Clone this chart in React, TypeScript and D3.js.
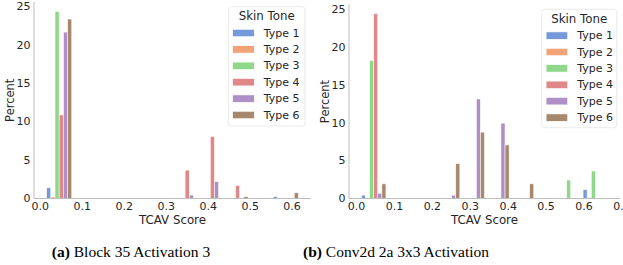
import React from "react";
import * as d3 from "d3";

const skinTypes = ["Type 1", "Type 2", "Type 3", "Type 4", "Type 5", "Type 6"];
const palette = ["#4878d0", "#ee854a", "#6acc64", "#d65f5f", "#956cb4", "#8c613c"];

// (a) Block 35 Activation 3 -- 10 bins, percent of all samples
const blockEdges = [0.015, 0.075, 0.135, 0.195, 0.255, 0.315, 0.375, 0.435, 0.495, 0.555, 0.615];
const blockType1 = [1.4, 0, 0, 0, 0, 0, 0, 0, 0, 0.25];
const blockType2 = [0.2, 0, 0, 0, 0, 0, 0, 0, 0, 0];
const blockType3 = [24.4, 0, 0, 0, 0, 0, 0, 0, 0, 0];
const blockType4 = [10.9, 0, 0, 0, 0, 3.7, 8.1, 1.7, 0, 0];
const blockType5 = [21.7, 0, 0, 0, 0, 0.45, 2.2, 0, 0, 0];
const blockType6 = [23.4, 0, 0, 0, 0, 0, 0, 0.25, 0, 0.75];
const blockXTicks = [0, 0.1, 0.2, 0.3, 0.4, 0.5, 0.6];

// (b) Conv2d 2a 3x3 Activation
const convEdges = [0.0125, 0.0775, 0.1425, 0.2075, 0.2725, 0.3375, 0.4025, 0.4675, 0.5325, 0.5975, 0.6625];
const convType1 = [0.45, 0, 0, 0, 0, 0, 0, 0, 0, 1.2];
const convType2 = [0, 0, 0, 0, 0, 0, 0, 0, 0, 0.15];
const convType3 = [18.3, 0, 0, 0, 0, 0, 0, 0, 2.45, 3.65];
const convType4 = [24.5, 0, 0, 0, 0, 0, 0, 0, 0, 0];
const convType5 = [0.7, 0, 0, 0.45, 13.2, 10.0, 0, 0, 0, 0];
const convType6 = [1.95, 0, 0, 4.65, 8.8, 7.1, 1.95, 0, 0, 0];
const convXTicks = [0, 0.1, 0.2, 0.3, 0.4, 0.5, 0.6, 0.7];

const yTicks = [0, 5, 10, 15, 20, 25];

const sans = "DejaVu Sans, sans-serif";
const ink = "#262626";

type PanelProps = {
  edges: number[];
  series: number[][];
  xTicks: number[];
  left: number;
  right: number;
  top: number;
  bottom: number;
  ylabelX: number;
  legend: { x: number; y: number; w: number; h: number };
};

function Panel({ edges, series, xTicks, left, right, top, bottom, ylabelX, legend }: PanelProps) {
  // matplotlib style 5% margins on x, ymax = 1.05 * max
  const lo = edges[0], hi = edges[edges.length - 1];
  const pad = (hi - lo) * 0.05;
  const x = d3.scaleLinear().domain([lo - pad, hi + pad]).range([left, right]);
  const ymax = d3.max(series.flat()) * 1.05;
  const y = d3.scaleLinear().domain([0, ymax]).range([bottom, top]);
  const n = series.length;

  const bars: any[] = [];
  series.forEach((vals, t) => {
    vals.forEach((v, b) => {
      if (v <= 0) return;
      const w = (edges[b + 1] - edges[b]) / n;
      const x0 = edges[b] + t * w;
      bars.push(
        <rect
          key={`${t}-${b}`}
          x={x(x0)}
          y={y(v)}
          width={x(x0 + w) - x(x0)}
          height={y(0) - y(v)}
          fill={palette[t]}
          stroke="#fff"
          strokeWidth={0.6}
          opacity={0.75}
        />
      );
    });
  });

  return (
    <g fontFamily={sans} fill={ink}>
      {bars}
      <line x1={left} x2={left} y1={top} y2={bottom} stroke="#bdbdbd" strokeWidth={1} />
      <line x1={left} x2={right} y1={bottom} y2={bottom} stroke="#bdbdbd" strokeWidth={1} />
      {xTicks.map((t) => (
        <text key={t} x={x(t)} y={bottom + 11.6} fontSize={11} textAnchor="middle">
          {d3.format(".1f")(t)}
        </text>
      ))}
      {yTicks.map((t) => (
        <text key={t} x={left - 3.5} y={y(t)} fontSize={11} textAnchor="end" dominantBaseline="central">
          {t}
        </text>
      ))}
      <text x={(left + right) / 2} y={bottom + 25.3} fontSize={11.8} textAnchor="middle">
        TCAV Score
      </text>
      <text
        transform={`translate(${ylabelX},${(top + bottom) / 2}) rotate(-90)`}
        fontSize={11.5}
        textAnchor="middle"
        dominantBaseline="central"
      >
        Percent
      </text>
      <g>
        <rect
          x={legend.x}
          y={legend.y}
          width={legend.w}
          height={legend.h}
          rx={3}
          fill="#fff"
          fillOpacity={0.8}
          stroke="#e3e3e3"
          strokeWidth={0.8}
        />
        <text x={legend.x + legend.w / 2} y={legend.y + 9.6} fontSize={11.8} textAnchor="middle" dominantBaseline="central">
          Skin Tone
        </text>
        {skinTypes.map((name, i) => {
          const cy = legend.y + 26.3 + i * 16.4;
          return (
            <g key={name}>
              <rect
                x={legend.x + 4.4}
                y={cy - 3.7}
                width={21.6}
                height={7.4}
                fill={palette[i]}
                stroke="#fff"
                strokeWidth={0.6}
                opacity={0.75}
              />
              <text x={legend.x + 35.5} y={cy} fontSize={11} dominantBaseline="central">
                {name}
              </text>
            </g>
          );
        })}
      </g>
    </g>
  );
}

export default function App() {
  const blockSeries = [blockType1, blockType2, blockType3, blockType4, blockType5, blockType6];
  const convSeries = [convType1, convType2, convType3, convType4, convType5, convType6];
  return (
    <svg
      width={623}
      height={265}
      style={{ position: "absolute", left: 0, top: 0, background: "#fff", overflow: "hidden" }}
    >
      <Panel
        edges={blockEdges}
        series={blockSeries}
        xTicks={blockXTicks}
        left={34}
        right={311}
        top={2}
        bottom={198.5}
        ylabelX={9.5}
        legend={{ x: 228.3, y: 6.7, w: 76.7, h: 119.3 }}
      />
      <Panel
        edges={convEdges}
        series={convSeries}
        xTicks={convXTicks}
        left={349}
        right={620}
        top={4.5}
        bottom={198.5}
        ylabelX={325}
        legend={{ x: 541.7, y: 9.3, w: 75, h: 118.4 }}
      />
      <g fontFamily="Liberation Serif, Times New Roman, serif" fontSize={15.5} fill="#000">
        <text x={131} y={256.5} textAnchor="middle">
          <tspan fontWeight="bold">(a)</tspan> Block 35 Activation 3
        </text>
        <text x={396} y={256.5} textAnchor="middle">
          <tspan fontWeight="bold">(b)</tspan> Conv2d 2a 3x3 Activation
        </text>
      </g>
    </svg>
  );
}
